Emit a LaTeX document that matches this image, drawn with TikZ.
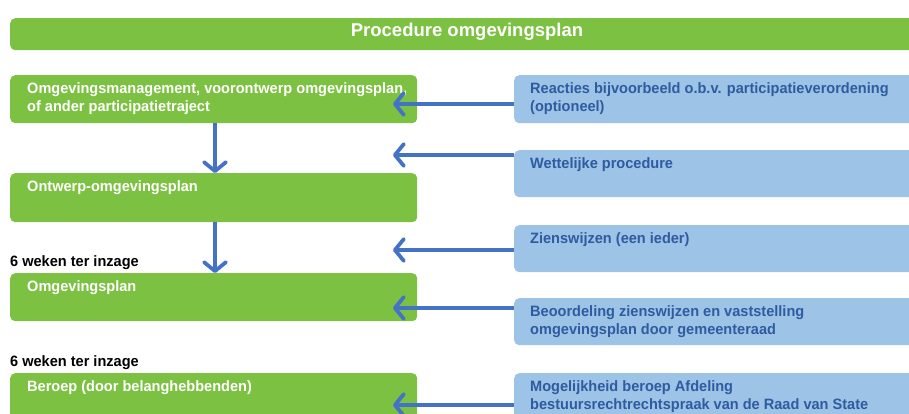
\documentclass[tikz,border=0pt]{standalone}
\usepackage{fontspec}
\setmainfont{Liberation Sans}[FakeStretch=0.97]
\newfontfamily\titlef{Liberation Sans}
\usetikzlibrary{arrows.meta}
\definecolor{gr}{RGB}{124,193,66}
\definecolor{lb}{RGB}{157,195,230}
\definecolor{dbt}{RGB}{46,92,160}
\definecolor{arc}{RGB}{68,114,196}
\tikzset{
  gbox/.style={fill=gr, draw=none, rounded corners=5pt, anchor=north west, inner sep=0pt},
  bbox/.style={fill=lb, draw=none, rounded corners=5pt, anchor=north west, inner sep=0pt},
  gtxt/.style={anchor=north west, inner sep=0pt, text=white, font=\fontsize{15}{18}\selectfont\bfseries, align=left},
  btxt/.style={anchor=north west, inner sep=0pt, text=dbt, font=\fontsize{15}{18}\selectfont\bfseries, align=left},
  ktxt/.style={anchor=north west, inner sep=0pt, text=black, font=\fontsize{15}{18}\selectfont\bfseries},
  arr/.style={draw=arc, line width=3.8pt, -{Straight Barb[length=9pt,width=22pt,line width=3.8pt,round]}},
}
\begin{document}
\begin{tikzpicture}[x=1pt,y=-1pt]
\useasboundingbox (0,0) rectangle (909,414);
% title
\node[gbox, minimum width=920pt, minimum height=32pt] (title) at (10,18) {};
\node[text=white, font=\titlef\fontsize{18.5}{20}\selectfont\bfseries, inner sep=0pt] (tt) at (467,32) {Procedure omgevingsplan};
% green boxes
\node[gbox, minimum width=407pt, minimum height=48pt] (g1) at (10,75) {};
\node[gbox, minimum width=407pt, minimum height=49pt] (g2) at (10,173) {};
\node[gbox, minimum width=407pt, minimum height=48pt] (g3) at (10,273) {};
\node[gbox, minimum width=407pt, minimum height=60pt] (g4) at (10,373) {};
% blue boxes
\node[bbox, minimum width=410pt, minimum height=48pt] (b1) at (514,75) {};
\node[bbox, minimum width=410pt, minimum height=47pt] (b2) at (514,150) {};
\node[bbox, minimum width=410pt, minimum height=47pt] (b3) at (514,225) {};
\node[bbox, minimum width=410pt, minimum height=47pt] (b4) at (514,298) {};
\node[bbox, minimum width=410pt, minimum height=60pt] (b5) at (514,373) {};
% texts
\node[gtxt] (g1t) at (27,82) {Omgevingsmanagement, voorontwerp omgevingsplan,\\of ander participatietraject};
\node[gtxt] (g2t) at (27,180) {Ontwerp-omgevingsplan};
\node[gtxt] (g3t) at (27,280) {Omgevingsplan};
\node[gtxt] (g4t) at (27,380) {Beroep (door belanghebbenden)};
\node[btxt] (b1t) at (530,82) {Reacties bijvoorbeeld o.b.v. participatieverordening\\(optioneel)};
\node[btxt] (b2t) at (530,157) {Wettelijke procedure};
\node[btxt] (b3t) at (530,232) {Zienswijzen (een ieder)};
\node[btxt] (b4t) at (530,305) {Beoordeling zienswijzen en vaststelling\\omgevingsplan door gemeenteraad};
\node[btxt] (b5t) at (530,380) {Mogelijkheid beroep Afdeling\\bestuursrechtrechtspraak van de Raad van State};
\node[ktxt] (k1) at (10,255) {6 weken ter inzage};
\node[ktxt] (k2) at (10,355) {6 weken ter inzage};
% arrow helpers
\coordinate (dx) at (215,0);
\coordinate (hx) at (393,0);
\coordinate (y1) at (0,104);
\coordinate (y2) at (0,155);
\coordinate (y3) at (0,250);
\coordinate (y4) at (0,308);
\coordinate (y5) at (0,405);
% down arrows
\draw[arr] (g1.south -| dx) -- (g2.north -| dx);
\draw[arr] (g2.south -| dx) -- (g3.north -| dx);
% left arrows
\draw[arr] (b1.west |- y1) -- (hx |- y1);
\draw[arr] (b2.west |- y2) -- (hx |- y2);
\draw[arr] (b3.west |- y3) -- (hx |- y3);
\draw[arr] (b4.west |- y4) -- (hx |- y4);
\draw[arr] (b5.west |- y5) -- (hx |- y5);
\end{tikzpicture}
\end{document}
